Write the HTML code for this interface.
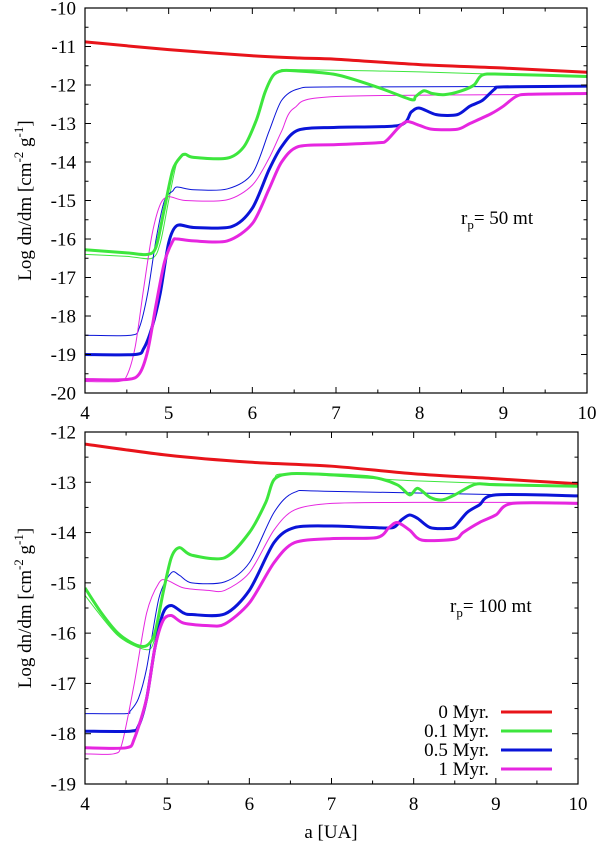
<!DOCTYPE html>
<html><head><meta charset="utf-8">
<style>
html,body{margin:0;padding:0;background:#fff;}
svg{display:block;font-family:"Liberation Serif",serif;}
</style></head>
<body>
<svg id="fig" width="600" height="845" viewBox="0 0 600 845" xmlns="http://www.w3.org/2000/svg"></svg>
<script>
// ---------- data: top panel (r_p = 50 mt) ----------
const xTicks = [4,5,6,7,8,9,10];
const topYTicks = [-10,-11,-12,-13,-14,-15,-16,-17,-18,-19,-20];
const botYTicks = [-12,-13,-14,-15,-16,-17,-18,-19];
const seriesNames = ["0 Myr.","0.1 Myr.","0.5 Myr.","1 Myr."];

const topRedX = [4,5,6,6.56,7,8,9,10];
const topRedY = [-10.88,-11.08,-11.24,-11.3,-11.33,-11.47,-11.56,-11.67];
const topGreenX = [4,4.5,4.75,4.85,4.95,5.05,5.15,5.2,5.3,5.7,5.9,6.05,6.15,6.25,6.35,6.5,7,7.5,7.9,7.95,8.05,8.15,8.3,8.5,8.65,8.75,9,10];
const topGreenY = [-16.28,-16.36,-16.4,-16.2,-15.2,-14.2,-13.85,-13.8,-13.88,-13.9,-13.6,-12.9,-12.2,-11.75,-11.63,-11.63,-11.73,-12.06,-12.38,-12.3,-12.15,-12.22,-12.25,-12.15,-12.0,-11.74,-11.72,-11.78];
const topGreenThinX = [4,4.5,4.8,4.9,5.0,5.1,5.2,5.3,5.7,5.9,6.05,6.15,6.25,6.35,6.5,8,10];
const topGreenThinY = [-16.4,-16.45,-16.5,-16.1,-15.0,-14.0,-13.82,-13.9,-13.92,-13.6,-12.9,-12.2,-11.75,-11.62,-11.6,-11.66,-11.8];
const topBlueThinX = [4,4.55,4.65,4.75,4.85,4.95,5.05,5.1,5.3,5.7,6.0,6.2,6.35,6.55,7,10];
const topBlueThinY = [-18.5,-18.5,-18.3,-17.4,-16.0,-15.0,-14.75,-14.65,-14.72,-14.7,-14.3,-13.2,-12.4,-12.1,-12.05,-12.04];
const topBlueX = [4,4.6,4.7,4.8,4.9,5.0,5.1,5.3,5.75,6.0,6.2,6.35,6.55,7,7.75,7.9,8.0,8.2,8.45,8.6,8.75,8.9,9.0,10];
const topBlueY = [-19.0,-19.0,-18.85,-18.3,-17.4,-16.1,-15.65,-15.7,-15.68,-15.2,-14.2,-13.6,-13.17,-13.1,-13.05,-12.7,-12.6,-12.77,-12.77,-12.55,-12.4,-12.1,-12.05,-12.03];
const topMagThinX = [4,4.4,4.5,4.6,4.7,4.8,4.9,5.0,5.2,5.7,6.0,6.2,6.35,6.5,7,10];
const topMagThinY = [-19.7,-19.7,-19.55,-18.8,-17.3,-15.9,-15.1,-14.9,-15.0,-14.98,-14.6,-13.9,-13.2,-12.6,-12.3,-12.24];
const topMagX = [4,4.5,4.65,4.75,4.85,4.95,5.05,5.1,5.3,5.7,6.0,6.2,6.35,6.55,7,7.5,7.6,7.75,7.85,8.0,8.15,8.45,8.6,8.85,9.0,9.15,9.3,10];
const topMagY = [-19.65,-19.65,-19.5,-18.9,-17.7,-16.6,-16.05,-16.0,-16.05,-16.05,-15.6,-14.7,-14.0,-13.6,-13.55,-13.5,-13.45,-13.1,-12.95,-13.05,-13.15,-13.15,-13.0,-12.75,-12.55,-12.3,-12.24,-12.22];

// ---------- data: bottom panel (r_p = 100 mt) ----------
const botRedX = [4,5,6,7,8,9,10];
const botRedY = [-12.24,-12.46,-12.6,-12.68,-12.83,-12.93,-13.03];
const botGreenX = [4,4.2,4.4,4.6,4.75,4.85,4.95,5.05,5.15,5.3,5.7,6.0,6.2,6.3,6.5,7,7.5,7.8,7.95,8.05,8.2,8.35,8.5,8.75,9,10];
const botGreenY = [-15.1,-15.6,-16.0,-16.22,-16.25,-16.0,-15.2,-14.5,-14.3,-14.45,-14.5,-14.0,-13.4,-12.95,-12.83,-12.85,-12.9,-13.05,-13.25,-13.12,-13.3,-13.35,-13.25,-13.04,-13.05,-13.08];
const botGreenThinX = [4,4.4,4.75,4.85,4.95,5.05,5.15,5.3,5.7,6.0,6.2,6.3,6.5,8,10];
const botGreenThinY = [-15.25,-16.05,-16.33,-16.1,-15.25,-14.5,-14.3,-14.45,-14.5,-14.0,-13.4,-12.95,-12.83,-12.97,-13.08];
const botBlueThinX = [4,4.5,4.55,4.65,4.75,4.9,5.05,5.15,5.3,5.7,6.0,6.3,6.55,7,10];
const botBlueThinY = [-17.6,-17.6,-17.55,-17.3,-16.7,-15.3,-14.8,-14.85,-15.0,-14.98,-14.6,-13.6,-13.2,-13.18,-13.28];
const botBlueX = [4,4.55,4.65,4.75,4.85,4.95,5.05,5.2,5.3,5.7,6.0,6.3,6.55,7,7.5,7.75,7.85,7.95,8.05,8.2,8.4,8.5,8.65,8.8,9.0,10];
const botBlueY = [-17.95,-17.95,-17.85,-17.3,-16.3,-15.6,-15.45,-15.6,-15.63,-15.62,-15.15,-14.2,-13.9,-13.87,-13.9,-13.9,-13.75,-13.65,-13.72,-13.9,-13.92,-13.88,-13.6,-13.45,-13.25,-13.27];
const botMagThinX = [4,4.35,4.45,4.6,4.75,4.9,5.0,5.2,5.5,5.7,6.0,6.3,6.55,7,8,10];
const botMagThinY = [-18.4,-18.4,-18.2,-17.0,-15.6,-15.0,-14.95,-15.1,-15.15,-15.15,-14.8,-13.95,-13.55,-13.42,-13.4,-13.4];
const botMagX = [4,4.5,4.6,4.75,4.85,4.95,5.05,5.2,5.5,5.7,6.0,6.3,6.55,7,7.55,7.7,7.8,7.95,8.1,8.5,8.6,8.8,9.0,9.2,10];
const botMagY = [-18.28,-18.28,-18.1,-17.3,-16.3,-15.75,-15.65,-15.8,-15.85,-15.82,-15.4,-14.6,-14.2,-14.12,-14.1,-13.9,-13.8,-13.95,-14.15,-14.13,-14.0,-13.8,-13.65,-13.42,-13.42];

const RED="#e8141a", GREEN="#3de63d", BLUE="#0a14d8", MAG="#e626e0";
const NS="http://www.w3.org/2000/svg";
const svg=document.getElementById('fig');
const FS=19;
function mk(tag,attrs,parent){const e=document.createElementNS(NS,tag);for(const k in attrs)e.setAttribute(k,attrs[k]);(parent||svg).appendChild(e);return e;}

function makeScale(d0,d1,r0,r1){return v=>r0+(v-d0)/(d1-d0)*(r1-r0);}

function smoothPath(px,py){
  let d="M"+px[0].toFixed(2)+","+py[0].toFixed(2);
  for(let i=0;i<px.length-1;i++){
    const x0=px[Math.max(i-1,0)],y0=py[Math.max(i-1,0)];
    const x1=px[i],y1=py[i],x2=px[i+1],y2=py[i+1];
    const x3=px[Math.min(i+2,px.length-1)],y3=py[Math.min(i+2,px.length-1)];
    const t=1/7;
    d+=" C"+(x1+(x2-x0)*t).toFixed(2)+","+(y1+(y2-y0)*t).toFixed(2)+" "+(x2-(x3-x1)*t).toFixed(2)+","+(y2-(y3-y1)*t).toFixed(2)+" "+x2.toFixed(2)+","+y2.toFixed(2);
  }
  return d;
}

function panel(cfg){
  const g=mk('g',{});
  
  
  const sx=makeScale(4,10,cfg.L,cfg.R), sy=makeScale(cfg.yMax,cfg.yMin,cfg.T,cfg.B);
  const clipId=cfg.name+'-clip';
  const cp=mk('clipPath',{id:clipId},g);
  mk('rect',{x:cfg.L,y:cfg.T,width:cfg.R-cfg.L,height:cfg.B-cfg.T},cp);
  const lg=mk('g',{'clip-path':'url(#'+clipId+')'},g);
  cfg.series.forEach(s=>{
    const p=mk('path',{d:smoothPath(s.x.map(sx),s.y.map(sy)),fill:'none',stroke:s.c,'stroke-width':s.w,'stroke-linejoin':'round'},lg);
    
    
  });
  const fr=mk('rect',{x:cfg.L,y:cfg.T,width:cfg.R-cfg.L,height:cfg.B-cfg.T,fill:'none',stroke:'#000','stroke-width':1.2},g);
  
  
  for(let v=4;v<=10.001;v+=0.5){
    const X=sx(v), len=(Math.abs(v-Math.round(v))<1e-6)?6:3.5;
    mk('line',{x1:X,y1:cfg.B,x2:X,y2:cfg.B-len,stroke:'#000','stroke-width':1},g);
    mk('line',{x1:X,y1:cfg.T,x2:X,y2:cfg.T+len,stroke:'#000','stroke-width':1},g);
  }
  xTicks.forEach(v=>{
    const t=mk('text',{x:sx(v),y:cfg.B+26,'text-anchor':'middle','font-size':FS},g);
    t.textContent=v;
    
    
  });
  for(let v=cfg.yMax;v>=cfg.yMin-0.001;v-=0.5){
    const Y=sy(v), len=(Math.abs(v-Math.round(v))<1e-6)?6:3.5;
    mk('line',{x1:cfg.L,y1:Y,x2:cfg.L+len,y2:Y,stroke:'#000','stroke-width':1},g);
    mk('line',{x1:cfg.R,y1:Y,x2:cfg.R-len,y2:Y,stroke:'#000','stroke-width':1},g);
  }
  cfg.yTicks.forEach(v=>{
    const t=mk('text',{x:cfg.L-9,y:sy(v)+6.5,'text-anchor':'end','font-size':FS},g);
    t.textContent=v;
    
    
  });
  const cy=(cfg.T+cfg.B)/2;
  const yt=mk('text',{x:0,y:0,transform:'translate(31,'+cy+') rotate(-90)','text-anchor':'middle','font-size':FS},g);
  
  
  yt.innerHTML='Log dn/dm [cm<tspan dy="-8" font-size="13">-2</tspan><tspan dy="8"> g</tspan><tspan dy="-8" font-size="13">-1</tspan><tspan dy="8">]</tspan>';
  const an=mk('text',{x:cfg.annX,y:cfg.annY,'font-size':FS},g);
  
  
  an.innerHTML='r<tspan dy="5" font-size="13">p</tspan><tspan dy="-5">= '+cfg.ann+'</tspan>';
  return {sx,sy,g};
}

panel({name:'top-panel',L:85,R:587,T:8,B:393,yMax:-10,yMin:-20,yTicks:topYTicks,annX:461,annY:224,ann:'50 mt',
  series:[
    {n:'green-0.1myr-thin',x:topGreenThinX,y:topGreenThinY,c:GREEN,w:1},
    {n:'blue-0.5myr-thin',x:topBlueThinX,y:topBlueThinY,c:BLUE,w:1},
    {n:'magenta-1myr-thin',x:topMagThinX,y:topMagThinY,c:MAG,w:1},
    {n:'red-0myr-line',x:topRedX,y:topRedY,c:RED,w:3},
    {n:'green-0.1myr-line',x:topGreenX,y:topGreenY,c:GREEN,w:3},
    {n:'blue-0.5myr-line',x:topBlueX,y:topBlueY,c:BLUE,w:3},
    {n:'magenta-1myr-line',x:topMagX,y:topMagY,c:MAG,w:3}
  ]});
panel({name:'bottom-panel',L:85,R:578,T:432,B:784,yMax:-12,yMin:-19,yTicks:botYTicks,annX:450,annY:612,ann:'100 mt',
  series:[
    {n:'green-0.1myr-thin',x:botGreenThinX,y:botGreenThinY,c:GREEN,w:1},
    {n:'blue-0.5myr-thin',x:botBlueThinX,y:botBlueThinY,c:BLUE,w:1},
    {n:'magenta-1myr-thin',x:botMagThinX,y:botMagThinY,c:MAG,w:1},
    {n:'red-0myr-line',x:botRedX,y:botRedY,c:RED,w:3},
    {n:'green-0.1myr-line',x:botGreenX,y:botGreenY,c:GREEN,w:3},
    {n:'blue-0.5myr-line',x:botBlueX,y:botBlueY,c:BLUE,w:3},
    {n:'magenta-1myr-line',x:botMagX,y:botMagY,c:MAG,w:3}
  ]});

const xt=mk('text',{x:331,y:838,'text-anchor':'middle','font-size':FS});
xt.textContent='a [UA]';



const legColors=[RED,GREEN,BLUE,MAG];
const lgG=mk('g',{});


seriesNames.forEach((nm,i)=>{
  const y=712+i*19;
  const t=mk('text',{x:489,y:y+6,'text-anchor':'end','font-size':FS},lgG);
  t.textContent=nm;
  
  
  const l=mk('line',{x1:501,y1:y,x2:552,y2:y,stroke:legColors[i],'stroke-width':3},lgG);
  
  
});
</script>
</body></html>
